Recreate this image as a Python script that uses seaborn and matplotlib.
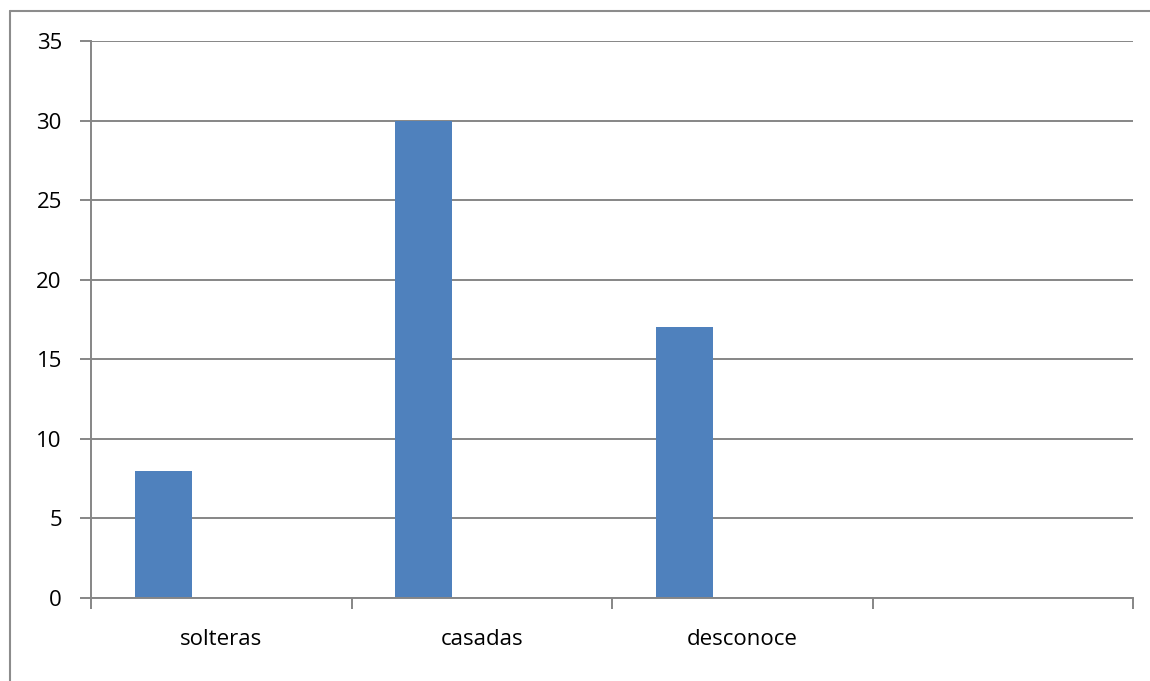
import numpy as np
import pandas as pd
import matplotlib
matplotlib.use("Agg")
import matplotlib.pyplot as plt
from matplotlib.lines import Line2D
import seaborn as sns

categories = ["solteras", "casadas", "desconoce", ""]
values = [8, 30, 17, np.nan]
series_names = ["Serie 1", "Serie 2"]

df = pd.DataFrame({
    "categoria": categories * 2,
    "valor": values + [np.nan] * len(categories),
    "serie": [series_names[0]] * len(categories) + [series_names[1]] * len(categories),
})

sns.set_theme(style="white")
plt.rcParams["font.family"] = ["Open Sans", "DejaVu Sans"]

W, H = 1150, 681
fig = plt.figure(figsize=(W / 100, H / 100), dpi=100)
ax = fig.add_axes([91 / W, 1 - 598 / H, (1133 - 91) / W, (598 - 41) / H])

grey = "#868686"
sns.barplot(data=df, x="categoria", y="valor", hue="serie", order=categories,
            palette=["#4F81BD", "#C0504D"], width=0.888, gap=0.507,
            ax=ax, legend=False, saturation=1, errorbar=None, linewidth=0)

ax.set_xlim(-0.5, len(categories) - 0.5)
ax.set_ylim(0, 35)
ax.set_yticks(np.arange(0, 36, 5))
ax.yaxis.grid(True, color=grey, linewidth=1.4)
ax.set_axisbelow(True)
ax.set_xlabel("")
ax.set_ylabel("")

# Category boundaries carry the tick marks; labels sit at slot centres
ax.set_xticks(np.arange(-0.5, len(categories), 1.0), minor=True)
ax.tick_params(axis="x", which="minor", length=8, width=1.4, color=grey, direction="out", bottom=True)
ax.tick_params(axis="x", which="major", length=0, pad=22, labelsize=16, labelcolor="black")
ax.tick_params(axis="y", which="major", length=8, width=1.4, color=grey, direction="out", left=True,
               pad=13, labelsize=16, labelcolor="black")

for side in ["top", "right"]:
    ax.spines[side].set_visible(False)
for side in ["left", "bottom"]:
    ax.spines[side].set_color(grey)
    ax.spines[side].set_linewidth(1.4)

# Chart area frame (top and left edges)
fig.add_artist(Line2D([9.5 / W, 1.0], [1 - 10.5 / H, 1 - 10.5 / H], color="#8c8c8c", linewidth=1.5,
                      transform=fig.transFigure))
fig.add_artist(Line2D([9.5 / W, 9.5 / W], [0.0, 1 - 10.5 / H], color="#8c8c8c", linewidth=1.5,
                      transform=fig.transFigure))

fig.savefig("out.png", dpi=100, facecolor="white")
